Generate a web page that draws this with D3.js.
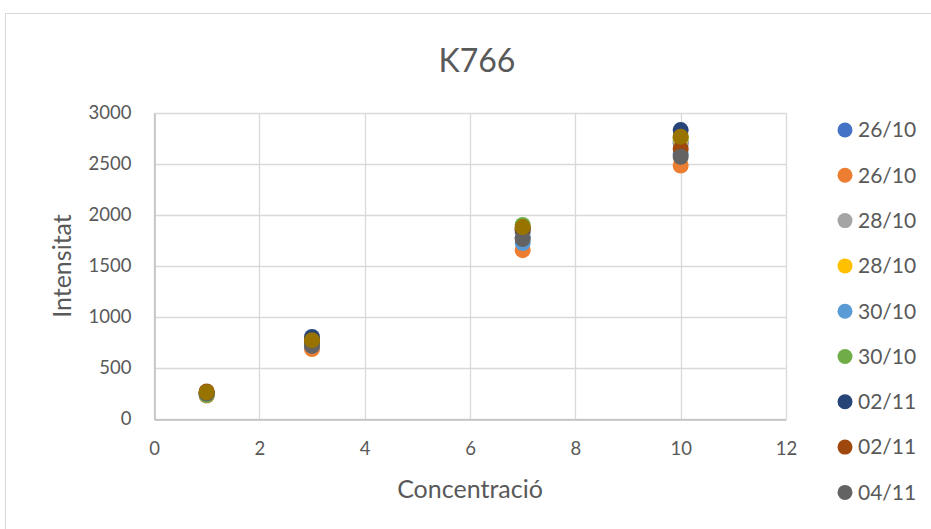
<!DOCTYPE html>
<html>
<head>
<meta charset="utf-8">
<script src="https://cdn.jsdelivr.net/npm/d3@7"></script>
<style>
  html, body { margin: 0; padding: 0; background: #fff; }
  svg { display: block; font-family: Lato, "Open Sans", sans-serif; }
</style>
</head>
<body>
<svg id="chart" width="931" height="529"></svg>
<script>
// Concentration levels measured
const concentrations = [1, 3, 7, 10];

// Series labels (measurement dates) and colours
const seriesNames = ["26/10", "26/10", "28/10", "28/10", "30/10", "30/10", "02/11", "02/11", "04/11", "04/11"];
const seriesColors = ["#4472C4", "#ED7D31", "#A5A5A5", "#FFC000", "#5B9BD5", "#70AD47", "#264478", "#9E480E", "#636363", "#997300"];

// Intensity readings, one array per series, aligned with concentrations
const s1  = [245, 760, 1780, 2700];
const s2  = [230, 686, 1655, 2485];
const s3  = [240, 740, 1820, 2720];
const s4  = [250, 770, 1860, 2750];
const s5  = [245, 720, 1725, 2600];
const s6  = [235, 750, 1902, 2760];
const s7  = [260, 804, 1850, 2833];
const s8  = [270, 760, 1870, 2647];
const s9  = [250, 716, 1765, 2571];
const s10 = [262, 773, 1882, 2768];
const seriesValues = [s1, s2, s3, s4, s5, s6, s7, s8, s9, s10];

// Axis ticks
const xTicks = [0, 2, 4, 6, 8, 10, 12];
const yTicks = [0, 500, 1000, 1500, 2000, 2500, 3000];

const title = "K766";
const xTitle = "Concentració";
const yTitle = "Intensitat";

const svg = d3.select("#chart");
const textColor = "#595959";
const gridColor = "#d9d9d9";

// Chart frame
svg.append("rect")
  .attr("x", 5.5).attr("y", 13.5)
  .attr("width", 940).attr("height", 530)
  .attr("fill", "#fff")
  .attr("stroke", "#d9d9d9");

const plot = { left: 154, right: 786, top: 113, bottom: 419 };

const x = d3.scaleLinear().domain([0, 12]).range([plot.left, plot.right]);
const y = d3.scaleLinear().domain([0, 3000]).range([plot.bottom, plot.top]);

// Gridlines
svg.append("g")
  .selectAll("line.h")
  .data(yTicks)
  .join("line")
  .attr("x1", plot.left).attr("x2", plot.right)
  .attr("y1", d => Math.round(y(d)) + 0.5).attr("y2", d => Math.round(y(d)) + 0.5)
  .attr("stroke", gridColor).attr("stroke-width", 1.3);

svg.append("g")
  .selectAll("line.v")
  .data(xTicks)
  .join("line")
  .attr("y1", plot.top).attr("y2", plot.bottom)
  .attr("x1", d => Math.round(x(d)) + 0.5).attr("x2", d => Math.round(x(d)) + 0.5)
  .attr("stroke", gridColor).attr("stroke-width", 1.3);

// Axes (lines only, no tick marks)
const xAxis = svg.append("g")
  .attr("transform", `translate(0,${Math.round(y(0)) + 0.5})`)
  .call(d3.axisBottom(x).tickValues(xTicks).tickSize(0).tickPadding(22).tickFormat(d3.format("d")));
xAxis.select(".domain").attr("stroke", "#bfbfbf").attr("stroke-width", 1.5);
xAxis.selectAll("text").attr("fill", textColor).attr("font-size", 18.5).attr("font-family", "Lato, sans-serif");

const yAxis = svg.append("g")
  .attr("transform", `translate(${Math.round(x(0)) + 0.5},0)`)
  .call(d3.axisLeft(y).tickValues(yTicks).tickSize(0).tickPadding(23).tickFormat(d3.format("d")));
yAxis.select(".domain").attr("stroke", "#bfbfbf").attr("stroke-width", 1.5);
yAxis.selectAll("text").attr("fill", textColor).attr("font-size", 18.5).attr("font-family", "Lato, sans-serif");

// Markers, later series drawn on top
const points = seriesValues.flatMap((vals, i) =>
  vals.map((v, j) => ({ series: i, cx: concentrations[j], cy: v })));

svg.append("g")
  .selectAll("circle")
  .data(points)
  .join("circle")
  .attr("cx", d => x(d.cx))
  .attr("cy", d => y(d.cy))
  .attr("r", 8)
  .attr("fill", d => seriesColors[d.series]);

// Title
svg.append("text")
  .attr("x", 477).attr("y", 72)
  .attr("text-anchor", "middle")
  .attr("fill", textColor)
  .attr("font-size", 32)
  .text(title);

// Axis titles
svg.append("text")
  .attr("x", 470).attr("y", 498)
  .attr("text-anchor", "middle")
  .attr("fill", textColor)
  .attr("font-size", 25)
  .text(xTitle);

svg.append("text")
  .attr("transform", `translate(71,${(plot.top + plot.bottom) / 2}) rotate(-90)`)
  .attr("text-anchor", "middle")
  .attr("fill", textColor)
  .attr("font-size", 25)
  .text(yTitle);

// Legend: the frame only leaves room for the first nine entries
const legendRows = seriesNames.slice(0, 9).map((name, i) => ({ name, color: seriesColors[i], i }));
const legend = svg.append("g").selectAll("g")
  .data(legendRows)
  .join("g")
  .attr("transform", d => `translate(845,${130 + d.i * 45.3})`);

legend.append("circle")
  .attr("r", 7.5)
  .attr("fill", d => d.color);

legend.append("text")
  .attr("x", 13).attr("y", 0)
  .attr("dy", "0.35em")
  .attr("fill", textColor)
  .attr("font-size", 21)
  .text(d => d.name);
</script>
</body>
</html>
